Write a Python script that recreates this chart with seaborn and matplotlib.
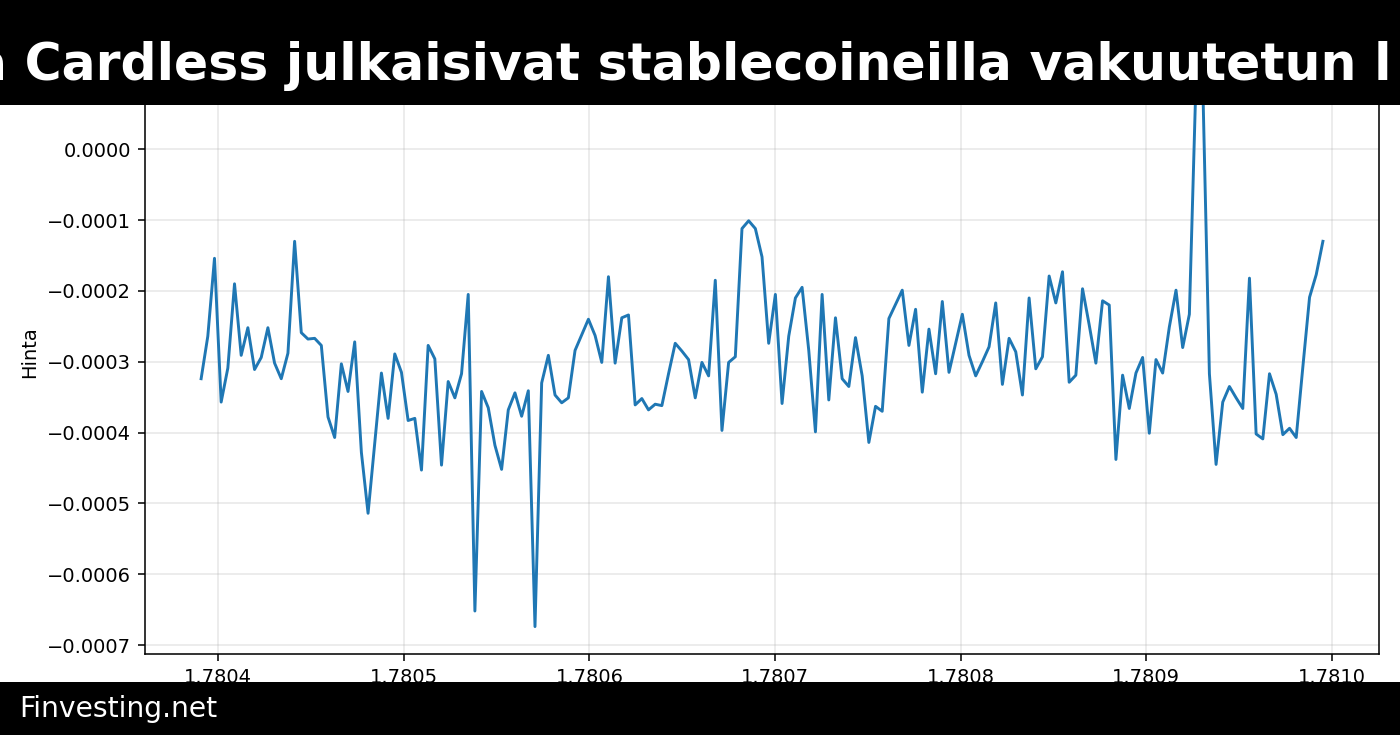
import matplotlib
matplotlib.use("Agg")
import matplotlib.pyplot as plt
from matplotlib.patches import Rectangle
import numpy as np
import pandas as pd
import seaborn as sns

# x axis: evenly spaced samples between these two values
x_start = 1.7803908
x_end = 1.7809951

# price values in units of 1e-4 (left to right)
price_e4 = [
    -3.24, -2.64, -1.54, -3.57, -3.09, -1.90, -2.91, -2.52, -3.11, -2.94,
    -2.52, -3.02, -3.24, -2.88, -1.30, -2.59, -2.68, -2.67, -2.77, -3.78,
    -4.07, -3.03, -3.42, -2.72, -4.28, -5.14, -4.15, -3.16, -3.80, -2.89,
    -3.15, -3.83, -3.80, -4.53, -2.77, -2.96, -4.46, -3.28, -3.51,
    -3.17, -2.05, -6.52, -3.42, -3.65, -4.18, -4.52, -3.68, -3.44, -3.77,
    -3.41, -6.74, -3.30, -2.91, -3.47, -3.58, -3.51, -2.84, -2.62, -2.40,
    -2.63, -3.01, -1.80, -3.02, -2.38, -2.34, -3.61, -3.52, -3.68, -3.60,
    -3.62, -3.17, -2.74, -2.85, -2.97, -3.51, -3.01, -3.20, -1.85, -3.97,
    -3.01, -2.93, -1.12, -1.01, -1.12,
    -1.52, -2.74, -2.05, -3.59, -2.64, -2.10, -1.95, -2.84, -3.99, -2.05,
    -3.54, -2.38, -3.24, -3.35, -2.66, -3.20, -4.14, -3.63, -3.70, -2.39,
    -2.19, -1.99, -2.77, -2.26, -3.43, -2.54, -3.17, -2.15, -3.15, -2.74,
    -2.33, -2.91, -3.20, -3.00, -2.79, -2.17, -3.32, -2.67, -2.86, -3.47,
    -2.10, -3.10, -2.93, -1.79, -2.17,
    -1.73, -3.29, -3.19, -1.97, -2.48, -3.02, -2.14, -2.20, -4.38, -3.19,
    -3.66, -3.16, -2.94, -4.01, -2.97, -3.16, -2.51, -1.99, -2.80, -2.33,
    1.00, 0.95, -3.17, -4.45, -3.57, -3.35, -3.51, -3.66, -1.82, -4.02,
    -4.09, -3.17, -3.46, -4.03, -3.94, -4.07, -3.07, -2.09, -1.77, -1.30,
]

title_text = "a Cardless julkaisivat stablecoineilla vakuutetun l"
footer_text = "Finvesting.net"
y_label = "Hinta"

df = pd.DataFrame({
    "x": np.linspace(x_start, x_end, len(price_e4)),
    "Hinta": np.array(price_e4) * 1e-4,
})

fig = plt.figure(figsize=(10, 5.25), dpi=140)
ax = fig.add_axes([0.1036, 0.1102, 0.8814, 0.8204])
sns.lineplot(data=df, x="x", y="Hinta", ax=ax, color="#1f77b4", linewidth=1.5)
ax.grid(True, alpha=0.3)
ax.set_xlabel("")
ax.set_ylabel(y_label)

# only keep the y ticks that are not hidden under the header bar
ylim = ax.get_ylim()
ax.set_yticks([t for t in ax.get_yticks() if t <= 1e-9])
ax.set_ylim(ylim)

# black header and footer bars drawn over the figure
fig.add_artist(Rectangle((0, 1 - 105 / 735), 1, 105 / 735, transform=fig.transFigure,
                         facecolor="black", edgecolor="none", zorder=10))
fig.add_artist(Rectangle((0, 0), 1, 53 / 735, transform=fig.transFigure,
                         facecolor="black", edgecolor="none", zorder=10))
fig.text(-27 / 1400, 1 - 80 / 735, title_text, color="white", fontsize=26,
         fontweight="bold", ha="left", va="baseline", zorder=11)
fig.text(19 / 1400, 1 - 717 / 735, footer_text, color="white", fontsize=14.5,
         ha="left", va="baseline", zorder=11)

fig.savefig("out.png", dpi=140)
